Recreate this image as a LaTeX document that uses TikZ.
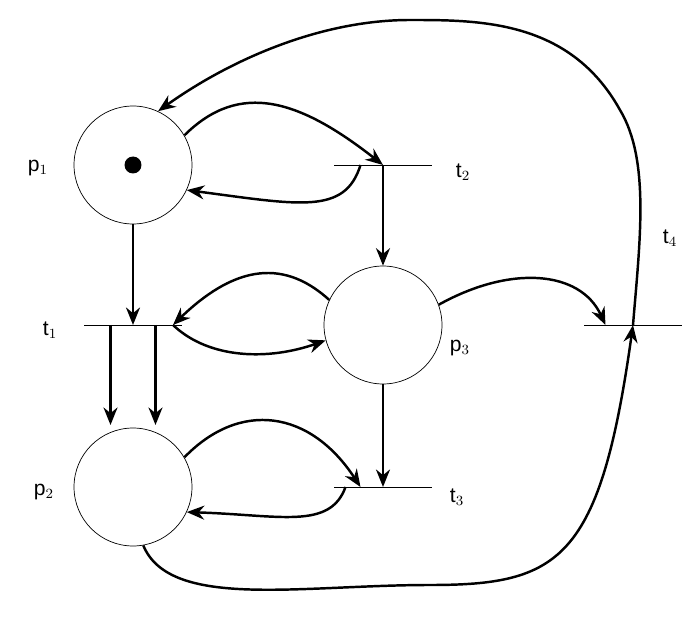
\documentclass[tikz,border=0pt]{standalone}
\usepackage{fontspec}
\setmainfont{Liberation Sans}
\usetikzlibrary{arrows.meta,positioning}
\begin{document}
\begin{tikzpicture}[x=0.02cm,y=-0.02cm,>={Stealth[length=3.5mm,width=2.8mm]},font=\large,
  place/.style={circle,draw,thin,minimum size=2.36cm,inner sep=0},
  trans/.style={minimum width=1.94cm,minimum height=0,inner sep=0},
  arc/.style={->,line width=1.4pt}]
\useasboundingbox (0,0) rectangle (700,618);
%% places
\node (p1) [place] at (133,165) {};
\node (p3) [place] at (383,325) {};
\node (p2) [place] at (133,487) {};
\fill (p1) circle (0.17cm);
%% transitions
\node (t1) [trans] at (133,325) {};
\node (t2) [trans] at (383,165) {};
\node (t3) [trans] at (383,487) {};
\node (t4) [trans] at (633,325) {};
\foreach \t in {t1,t2,t3,t4} \draw[thin] (\t.west) -- (\t.east);
%% labels
\node at (38,168) {p$_1$};
\node at (463,172) {t$_2$};
\node at (670,238) {t$_4$};
\node at (50,330) {t$_1$};
\node at (460,348) {p$_3$};
\node at (44,492) {p$_2$};
\node at (457,497) {t$_3$};
%% arcs
\draw[arc] (p1.30) .. controls (240,80) and (300,100) .. (t2.center);
\draw[arc] ([xshift=-0.45cm]t2.center) .. controls (345,215) and (300,205) .. (p1.-25);
\draw[arc] (t2.center) -- (p3.north);
\draw[arc] (p1.south) -- (t1.center);
\draw[arc] (p3.155) .. controls (280,255) and (230,270) .. ([xshift=0.8cm]t1.center);
\draw[arc] ([xshift=0.8cm]t1.center) .. controls (210,360) and (270,360) .. (p3.195);
\draw[arc] ([xshift=-0.45cm]t1.center) -- ++(0,100);
\draw[arc] ([xshift=0.45cm]t1.center) -- ++(0,100);
\draw[arc] (p2.30) .. controls (240,400) and (310,410) .. ([xshift=-0.45cm]t3.center);
\draw[arc] ([xshift=-0.75cm]t3.center) .. controls (330,530) and (280,515) .. (p2.-25);
\draw[arc] (p3.south) -- (t3.center);
\draw[arc] (p3.20) .. controls (510,265) and (580,270) .. ([xshift=-0.55cm]t4.center);
\draw[arc] (p2.-80) .. controls (170,610) and (300,585) .. (430,585)
  .. controls (560,585) and (600,560) .. (t4.center);
\draw[arc] (t4.center) .. controls (640,240) and (650,160) .. (620,110)
  .. controls (570,20) and (480,20) .. (410,20)
  .. controls (320,20) and (230,60) .. (p1.65);
\end{tikzpicture}
\end{document}
